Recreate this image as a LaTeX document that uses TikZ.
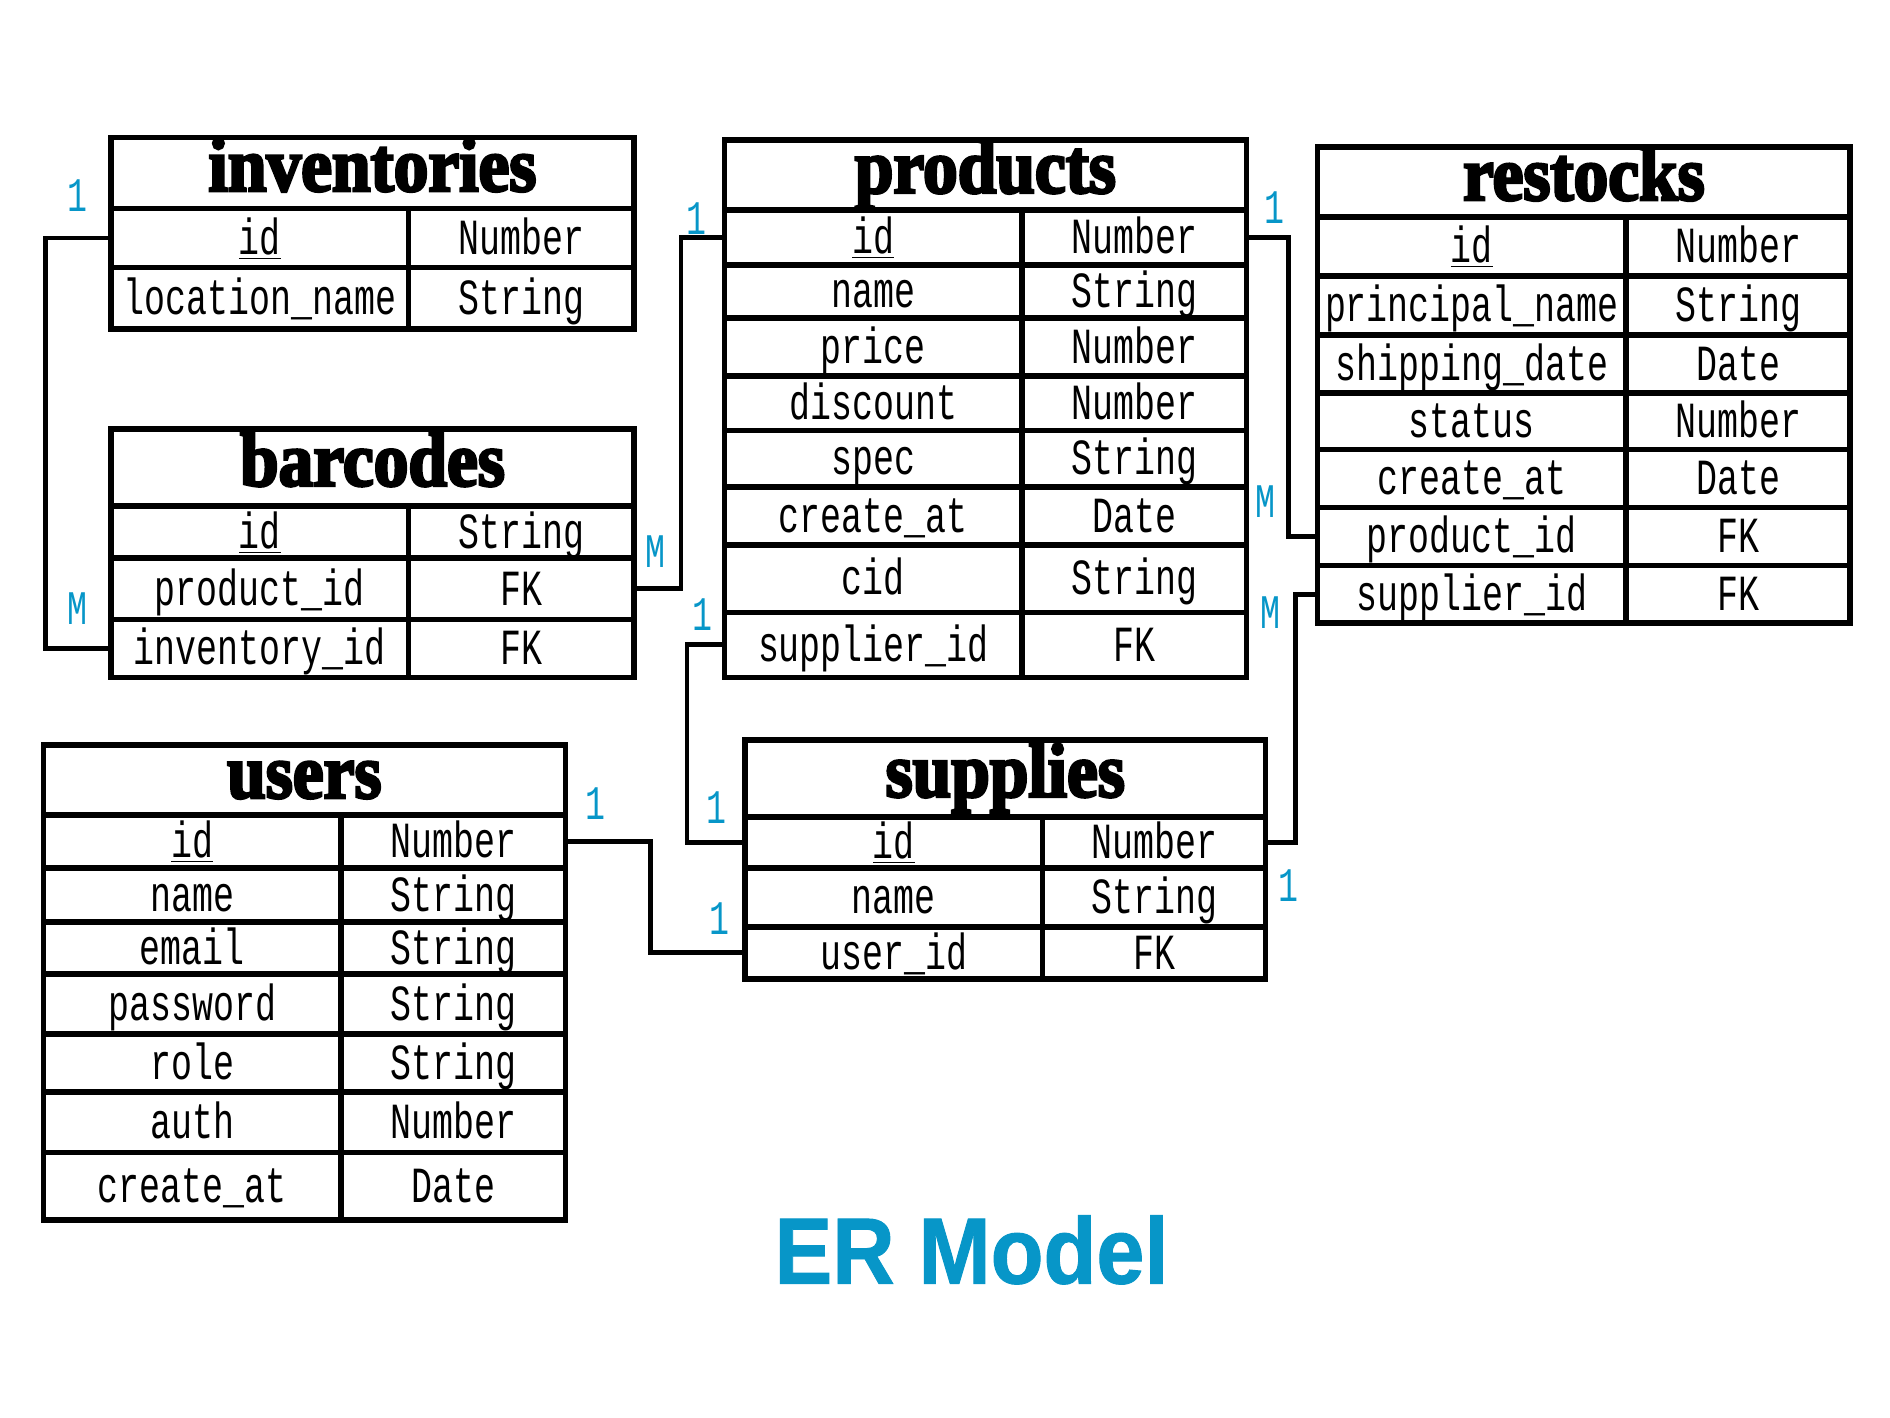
\documentclass[tikz,border=0pt]{standalone}
\usepackage{fontspec}
\newfontfamily\cellfont[FakeStretch=0.69]{Liberation Mono}
\newfontfamily\hdfont[FakeStretch=0.9,FakeBold=3.5]{Liberation Serif Bold}
\newfontfamily\titlefont[FakeStretch=0.92,FakeBold=1]{Liberation Sans Bold}
\definecolor{erblue}{HTML}{0796C8}
\tikzset{
  cellbox/.style={draw, line width=2.3pt, inner sep=0pt, outer sep=0pt,
    font=\cellfont\fontsize{21pt}{26pt}\selectfont, text height=13.5pt, text depth=0pt},
  hdbox/.style={cellbox, font=\hdfont\fontsize{32pt}{38pt}\selectfont, text height=15pt, text depth=0pt},
  conn/.style={line width=2pt},
  card/.style={text=erblue, inner sep=0pt, font=\cellfont\fontsize{20pt}{24pt}\selectfont}
}
\newcommand\erhead[6]{%
  \node[hdbox, minimum width={(#3-#2)*0.5pt}, minimum height={(#5-#4)*0.5pt}] (#1) at ({(#2+#3)/2},{(#4+#5)/2}) {#6};}
\newcommand\errow[8]{%
  \node[cellbox, minimum width={(#3-#2)*0.5pt}, minimum height={(#6-#5)*0.5pt}] (#1a) at ({(#2+#3)/2},{(#5+#6)/2}) {#7};
  \node[cellbox, minimum width={(#4-#3)*0.5pt}, minimum height={(#6-#5)*0.5pt}] (#1b) at ({(#3+#4)/2},{(#5+#6)/2}) {#8};}
\begin{document}
\begin{tikzpicture}[x=0.5pt,y=-0.5pt]
\fill[white] (0,0) rectangle (1568,1176);
\useasboundingbox (0,0) rectangle (1568,1176);
% inventories
\erhead{inv}{92}{526}{114}{173}{inventories}
\errow{inva}{92}{339}{526}{173}{222}{\underline{id}}{Number}
\errow{invb}{92}{339}{526}{222}{273}{location\_name}{String}
% barcodes
\erhead{bar}{92}{526}{356}{420}{barcodes}
\errow{bara}{92}{339}{526}{420}{463}{\underline{id}}{String}
\errow{barb}{92}{339}{526}{463}{514}{product\_id}{FK}
\errow{barc}{92}{339}{526}{514}{562}{inventory\_id}{FK}
% products
\erhead{prod}{601}{1034}{116}{174}{products}
\errow{proda}{601}{848}{1034}{174}{220}{\underline{id}}{Number}
\errow{prodb}{601}{848}{1034}{220}{264}{name}{String}
\errow{prodc}{601}{848}{1034}{264}{312}{price}{Number}
\errow{prodd}{601}{848}{1034}{312}{357}{discount}{Number}
\errow{prode}{601}{848}{1034}{357}{404}{spec}{String}
\errow{prodf}{601}{848}{1034}{404}{452}{create\_at}{Date}
\errow{prodg}{601}{848}{1034}{452}{508}{cid}{String}
\errow{prodh}{601}{848}{1034}{508}{562}{supplier\_id}{FK}
% restocks
\erhead{res}{1093}{1535}{122}{180}{restocks}
\errow{resa}{1093}{1349}{1535}{180}{229}{\underline{id}}{Number}
\errow{resb}{1093}{1349}{1535}{229}{278}{principal\_name}{String}
\errow{resc}{1093}{1349}{1535}{278}{326}{shipping\_date}{Date}
\errow{resd}{1093}{1349}{1535}{326}{373}{status}{Number}
\errow{rese}{1093}{1349}{1535}{373}{421}{create\_at}{Date}
\errow{resf}{1093}{1349}{1535}{421}{469}{product\_id}{FK}
\errow{resg}{1093}{1349}{1535}{469}{517}{supplier\_id}{FK}
% users
\erhead{usr}{36}{469}{618}{676}{users}
\errow{usra}{36}{283}{469}{676}{720}{\underline{id}}{Number}
\errow{usrb}{36}{283}{469}{720}{765}{name}{String}
\errow{usrc}{36}{283}{469}{765}{808}{email}{String}
\errow{usrd}{36}{283}{469}{808}{858}{password}{String}
\errow{usre}{36}{283}{469}{858}{906}{role}{String}
\errow{usrf}{36}{283}{469}{906}{956}{auth}{Number}
\errow{usrg}{36}{283}{469}{956}{1012}{create\_at}{Date}
% supplies
\erhead{sup}{618}{1050}{614}{678}{supplies}
\errow{supa}{618}{865}{1050}{678}{720}{\underline{id}}{Number}
\errow{supb}{618}{865}{1050}{720}{769}{name}{String}
\errow{supc}{618}{865}{1050}{769}{812}{user\_id}{FK}
% connectors
\draw[conn] (invaa.west) -- ++(-54,0) |- (barca.west);
\draw[conn] (barbb.east) -- ++(39,0) |- (prodaa.west);
\draw[conn] (prodab.east) -- ++(35,0) |- (resfa.west);
\draw[conn] (prodha.west) -- ++(-31,0) |- (supaa.west);
\draw[conn] (usrab.east) -- ++(71,0) |- (supca.west);
\draw[conn] (supab.east) -- ++(25,0) |- (resga.west);
% cardinalities
\node[card] (c1) at (64,162) {1};
\node[card] (c2) at (64,505) {M};
\node[card] (c3) at (544,458) {M};
\node[card] (c4) at (578,181) {1};
\node[card] (c5) at (1057,172) {1};
\node[card] (c6) at (1050,416) {M};
\node[card] (c7) at (583,510) {1};
\node[card] (c8) at (594,670) {1};
\node[card] (c9) at (494,667) {1};
\node[card] (c10) at (597,762) {1};
\node[card] (c11) at (1054,508) {M};
\node[card] (c12) at (1069,735) {1};
% title
\node[text=erblue, font=\titlefont\fontsize{39pt}{44pt}\selectfont, inner sep=0pt] (title) at (806,1037) {ER Model};
\end{tikzpicture}
\end{document}
